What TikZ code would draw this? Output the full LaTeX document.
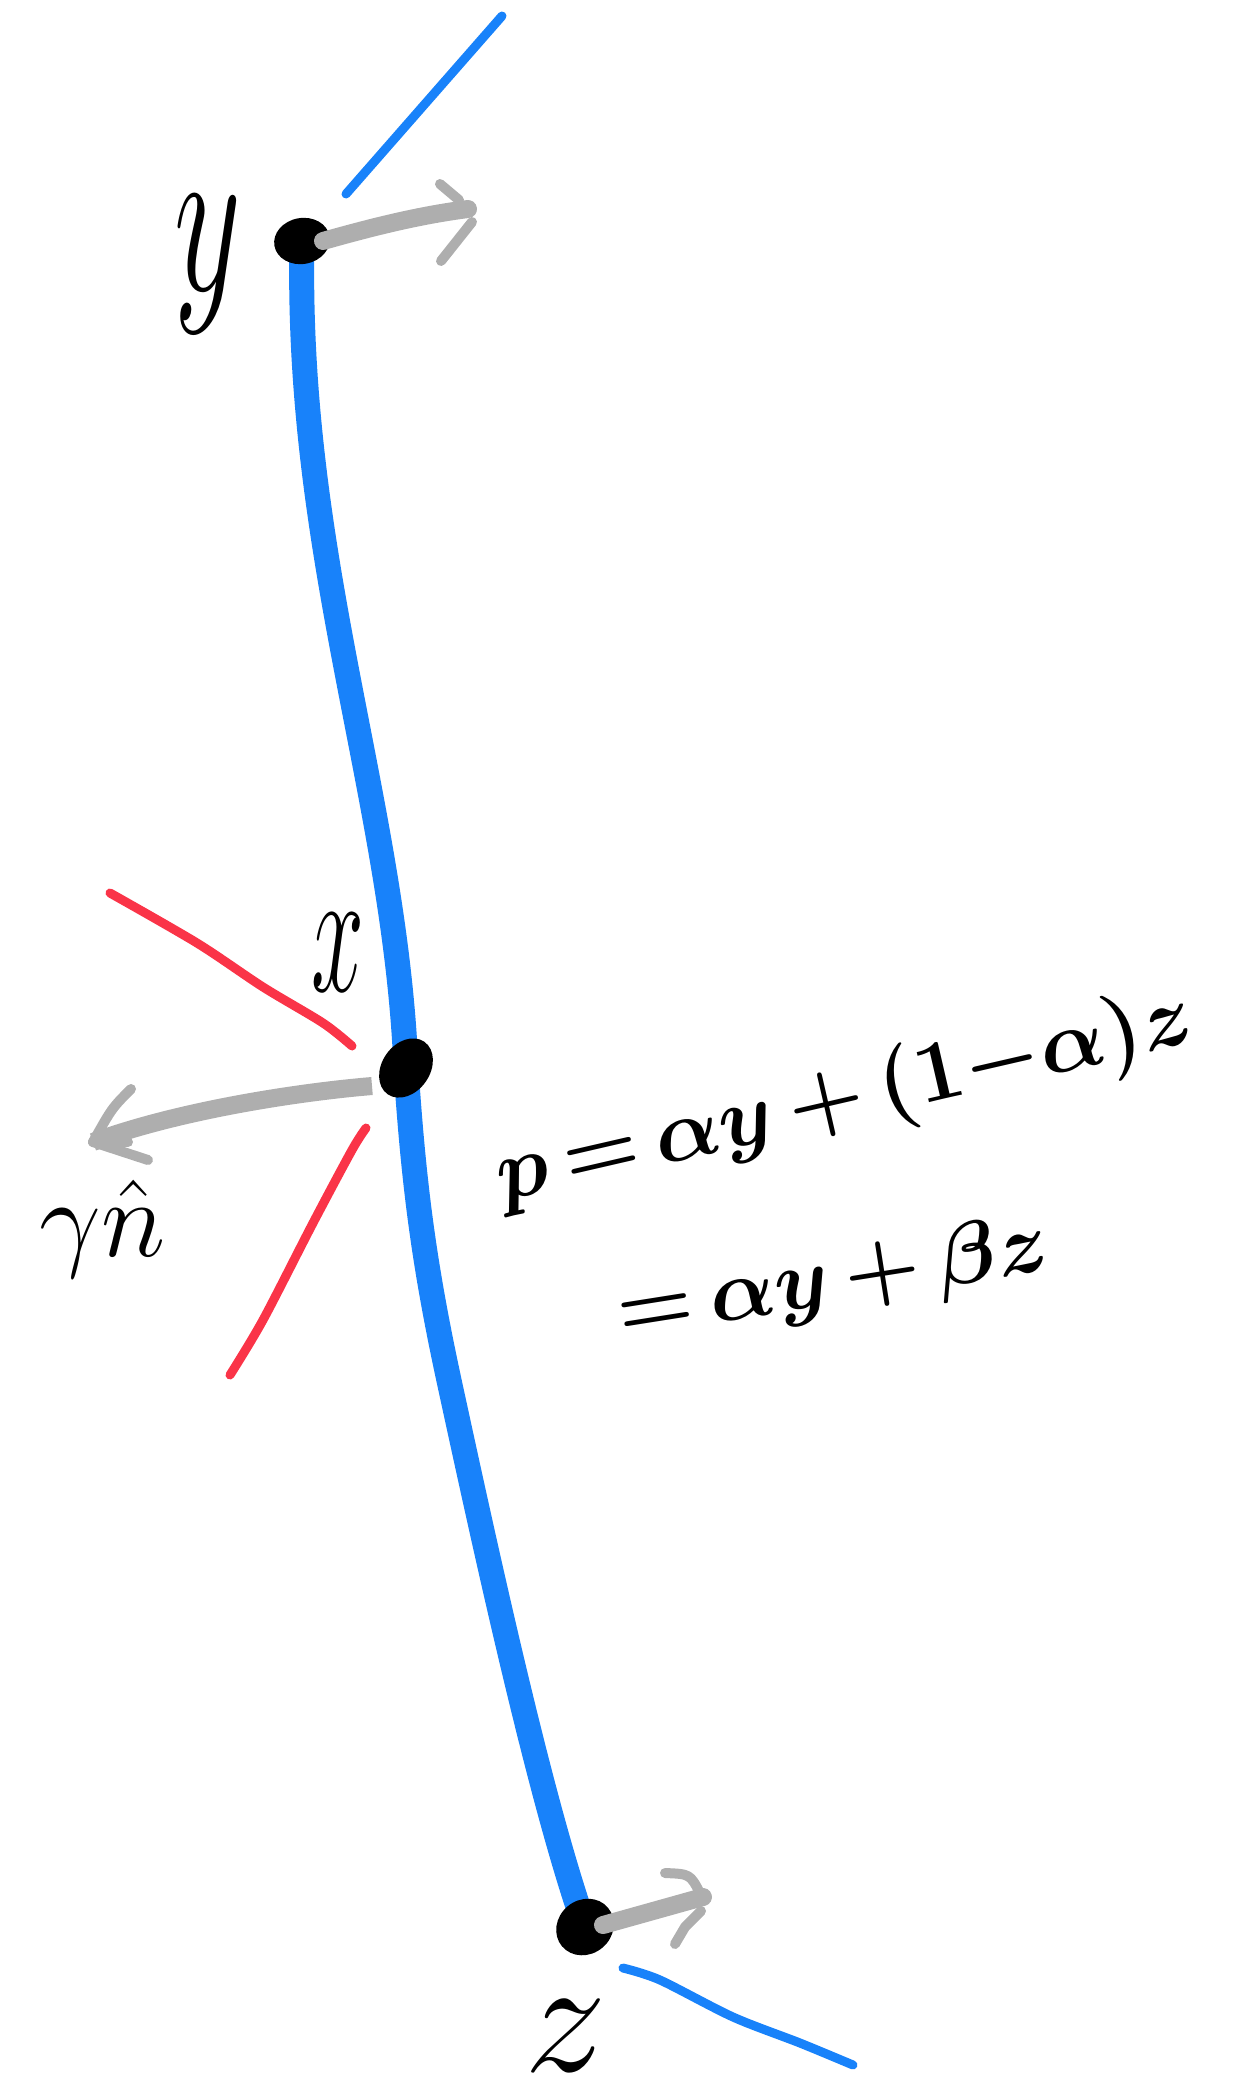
\RequirePackage{fix-cm}
\documentclass[tikz,border=0pt]{standalone}
\usepackage{graphicx}
\usetikzlibrary{shapes.geometric}
\definecolor{penblue}{HTML}{1882FA}
\definecolor{penred}{HTML}{FA3448}
\definecolor{pengray}{HTML}{AEAEAE}
\pgfdeclarelayer{bg}
\pgfsetlayers{bg,main}
\begin{document}
\begin{tikzpicture}[x=1pt,y=-1pt,
  line cap=round, line join=round,
  dot/.style={ellipse, fill=black, inner sep=0pt},
  bluecurve/.style={penblue, line width=25pt},
  thinblue/.style={penblue, line width=9pt},
  redline/.style={penred, line width=9pt},
  shaft/.style={pengray, line width=18pt},
  head/.style={pengray, line width=10pt},
  lbl/.style={inner sep=0pt, text=black}]
\useasboundingbox (0,0) rectangle (1235,2083);

% points
\node[dot, minimum width=56pt, minimum height=46pt, rotate=10] (Y) at (302,241) {};
\node[dot, minimum width=64pt, minimum height=48pt, rotate=55] (X) at (406,1068) {};
\node[dot, minimum width=60pt, minimum height=54pt, rotate=40] (Z) at (585,1927) {};

\begin{pgfonlayer}{bg}
% thick blue curve through y, x, z
\draw[bluecurve] (Y.center) .. controls (295,560) and (395,800) .. (X.center)
   .. controls (414,1190) and (425,1270) .. (450,1385)
   .. controls (485,1546) and (540,1800) .. (Z.center);
% gray arrow at x (under the dot)
\coordinate (nx) at (93,1142);
\draw[shaft] ([shift={(-34,18)}]X.center) .. controls (300,1092) and (180,1110) .. (nx);
\end{pgfonlayer}

% arrowhead at x
\draw[head] (131,1089) .. controls (112,1108) .. (nx);
\draw[head] (nx) -- (148,1160);
\draw[head] (nx) -- (128,1142);

% gray arrow at y
\coordinate (ty) at (468,209);
\draw[shaft] ([shift={(21,0)}]Y.center) .. controls (390,222) and (430,214) .. (ty);
\draw[head] (440,184) -- (459,200);
\draw[head] (472,222) -- (441,261);

% gray arrow at z
\coordinate (tz) at (703,1897);
\draw[shaft] ([shift={(18,-2)}]Z.center) -- (tz);
\draw[head] (665,1873) .. controls (690,1874) .. (700,1893);
\draw[head] (701,1911) -- (685,1927) -- (675,1944);

% thin blue tangent strokes
\draw[thinblue] (346,194) -- (502,16);
\draw[thinblue] plot[smooth] coordinates {(623,1968) (660,1980) (733,2017) (800,2043) (853,2065)};

% red strokes at x
\draw[redline] plot[smooth] coordinates {(110,893) (197,943) (263,987) (323,1023) (352,1046)};
\draw[redline] plot[smooth] coordinates {(366,1128) (352,1150) (313,1223) (263,1320) (230,1375)};

% labels
\node[lbl, font=\fontsize{130}{130}\selectfont] (ly) at (208,264) {\scalebox{1}[1.7]{$y$}};
\node[lbl, font=\fontsize{95}{95}\selectfont] (lx) at (338,953) {\scalebox{1}[1.9]{$x$}};
\node[lbl, font=\fontsize{110}{110}\selectfont] (ln) at (103,1229) {$\gamma\hat n$};
\node[lbl, font=\fontsize{165}{165}\selectfont] (lz) at (566,2036) {$z$};

% equations
\node[lbl, font=\fontsize{87}{87}\selectfont\boldmath, rotate=13] (eq1) at (845,1100) {$p\,{=}\,\alpha y\,{+}\,(1{-}\alpha)z$};
\node[lbl, font=\fontsize{87}{87}\selectfont\boldmath, rotate=9] (eq2) at (833,1282) {${=}\,\alpha y\,{+}\,\beta z$};
\end{tikzpicture}
\end{document}
